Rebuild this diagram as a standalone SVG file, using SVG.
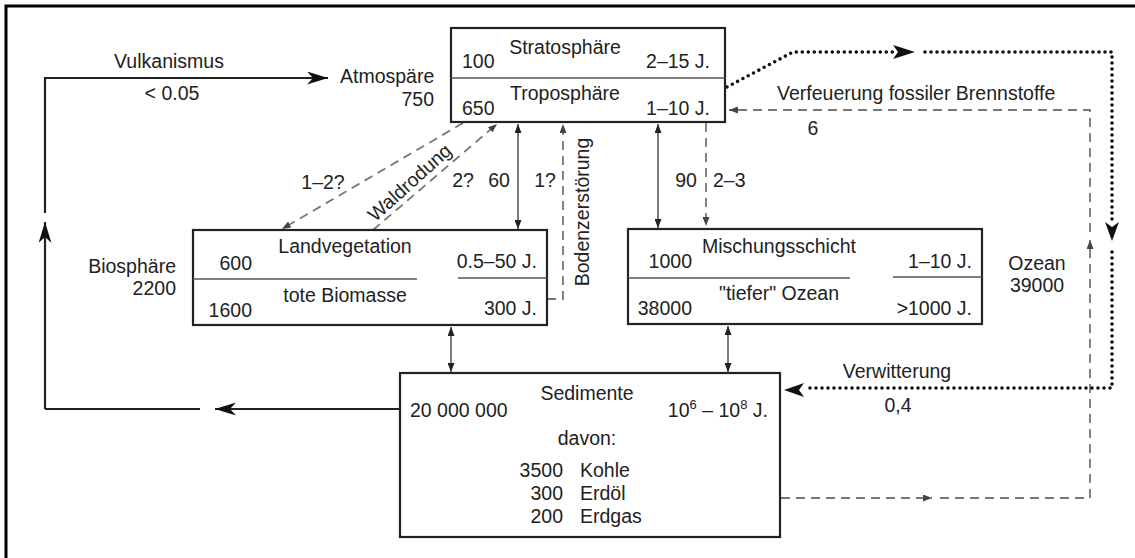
<svg xmlns="http://www.w3.org/2000/svg" width="1135" height="558" viewBox="0 0 1135 558">
<style>
text{font-family:"Liberation Sans",Arial,sans-serif;font-size:19.5px;fill:#222}
.m{text-anchor:middle}.e{text-anchor:end}
.box{fill:#fff;stroke:#222;stroke-width:2.2}
.div{stroke:#555;stroke-width:1.5}
.thin{fill:none;stroke:#222;stroke-width:1.2}
.thick{fill:none;stroke:#222;stroke-width:2.2}
.dash{fill:none;stroke:#777;stroke-width:1.8;stroke-dasharray:9 6}
.dot{fill:none;stroke:#111;stroke-width:3.6;stroke-linecap:round;stroke-dasharray:0 6}
</style>
<defs>
<marker id="sm" markerUnits="userSpaceOnUse" markerWidth="9" markerHeight="7" refX="9" refY="3.5" orient="auto-start-reverse"><path d="M0,0 L9,3.5 L0,7 z" fill="#222"/></marker>
<marker id="smg" markerUnits="userSpaceOnUse" markerWidth="9" markerHeight="7" refX="9" refY="3.5" orient="auto"><path d="M0,0 L9,3.5 L0,7 z" fill="#444"/></marker>
<marker id="big" markerUnits="userSpaceOnUse" markerWidth="21" markerHeight="13" refX="21" refY="6.5" orient="auto"><path d="M0,0 L21,6.5 L0,13 L6,6.5 z" fill="#111"/></marker>
</defs>
<g id="frame"><path d="M6,558 V6 H1135" fill="none" stroke="#000" stroke-width="3"/></g>

<g id="connectors">
<path class="thick" d="M45,213 V78 H328" marker-end="url(#big)"/>
<path class="thick" d="M45,409 V222" marker-end="url(#big)"/>
<path class="thick" d="M200,409 H45"/>
<path class="thick" d="M400,409 H215" marker-end="url(#big)"/>
<path class="thin" d="M518,124 V229" marker-start="url(#sm)" marker-end="url(#sm)"/>
<path class="thin" d="M658,124 V228" marker-start="url(#sm)" marker-end="url(#sm)"/>
<path class="thin" d="M451,327 V372" marker-start="url(#sm)" marker-end="url(#sm)"/>
<path class="thin" d="M728,326 V372" marker-start="url(#sm)" marker-end="url(#sm)"/>
<path class="thin" d="M450,265 V288" marker-start="url(#sm)" marker-end="url(#sm)"/>
<path class="thin" d="M883,265 V288" marker-start="url(#sm)" marker-end="url(#sm)"/>
<path class="dash" d="M463,123 L282,229" marker-end="url(#smg)"/>
<path class="dash" d="M373,230 L497,124" marker-end="url(#smg)"/>
<path class="dash" d="M547,299 H563 V124" marker-end="url(#smg)"/>
<path class="dash" d="M706,123 V226" marker-end="url(#smg)"/>
<path class="dash" d="M781,498 H932" marker-end="url(#smg)"/>
<path class="dash" d="M940,498 H1090 V240" marker-end="url(#smg)"/>
<path class="dash" d="M1090,232 V110 H729" marker-end="url(#smg)"/>
<path class="dot" d="M727,87 L793,52 H895"/>
<path d="M893,45 L915,52 L893,59 L898,52 z" fill="#111"/>
<path class="dot" d="M925,52 H1112 V222"/>
<path d="M1105,222 L1112,241 L1119,222 L1112,227 z" fill="#111"/>
<path class="dot" d="M1112,252 V388 H804"/>
<path d="M804,383 L784,390 L804,397 L799,390 z" fill="#111"/>
</g>

<g id="atmosphere">
<rect class="box" x="451" y="28" width="274" height="94"/>
<line class="div" x1="451" y1="78" x2="725" y2="78"/>
<text class="m" x="565" y="54">Stratosphäre</text>
<text x="462" y="68">100</text>
<text class="e" x="710" y="68">2–15 J.</text>
<text class="m" x="565" y="100">Troposphäre</text>
<text x="462" y="115">650</text>
<text class="e" x="710" y="115">1–10 J.</text>
</g>

<g id="atm-label">
<text x="340" y="83">Atmospäre</text>
<text class="e" x="434" y="106">750</text>
</g>

<g id="landvegetation">
<rect class="box" x="193" y="230" width="354" height="95"/>
<line class="div" x1="193" y1="279" x2="417" y2="279"/>
<line class="div" x1="458" y1="278" x2="547" y2="278"/>
<text class="m" x="345" y="253">Landvegetation</text>
<text class="e" x="252" y="270">600</text>
<text class="m" x="345" y="302">tote Biomasse</text>
<text class="e" x="252" y="317">1600</text>
<text class="e" x="537" y="268">0.5–50 J.</text>
<text class="e" x="537" y="315">300 J.</text>
</g>

<g id="bio-label">
<text class="e" x="176" y="273">Biosphäre</text>
<text class="e" x="176" y="295">2200</text>
</g>

<g id="ocean">
<rect class="box" x="628" y="229" width="354" height="95"/>
<line class="div" x1="628" y1="278" x2="850" y2="278"/>
<line class="div" x1="893" y1="277" x2="982" y2="277"/>
<text class="m" x="779" y="253">Mischungsschicht</text>
<text class="e" x="692" y="268">1000</text>
<text class="m" x="779" y="300">"tiefer" Ozean</text>
<text class="e" x="692" y="315">38000</text>
<text class="e" x="972" y="268">1–10 J.</text>
<text class="e" x="972" y="315">&gt;1000 J.</text>
</g>

<g id="ocean-label">
<text class="m" x="1037" y="270">Ozean</text>
<text class="m" x="1037" y="292">39000</text>
</g>

<g id="sediments">
<rect class="box" x="400" y="373" width="380" height="164"/>
<text class="m" x="587" y="400">Sedimente</text>
<text x="410" y="417">20 000 000</text>
<text class="e" x="768" y="417">10<tspan font-size="13" dy="-8">6</tspan><tspan dy="8"> – 10</tspan><tspan font-size="13" dy="-8">8</tspan><tspan dy="8"> J.</tspan></text>
<text class="m" x="587" y="445">davon:</text>
<text class="e" x="563" y="477">3500</text>
<text x="580" y="477">Kohle</text>
<text class="e" x="563" y="500">300</text>
<text x="580" y="500">Erdöl</text>
<text class="e" x="563" y="523">200</text>
<text x="580" y="523">Erdgas</text>
</g>

<g id="labels">
<text class="m" x="169" y="68">Vulkanismus</text>
<text class="m" x="172" y="100">&lt; 0.05</text>
<text class="m" x="323" y="189">1–2?</text>
<text class="m" x="463" y="187">2?</text>
<text class="m" x="499" y="187">60</text>
<text class="m" x="545" y="187">1?</text>
<text class="m" x="686" y="187">90</text>
<text x="713" y="187">2–3</text>
<text transform="translate(410,183) rotate(-42)" class="m" x="0" y="6">Waldrodung</text>
<text transform="translate(589,212) rotate(-90)" class="m" x="0" y="0">Bodenzerstörung</text>
<text x="777" y="100">Verfeuerung fossiler Brennstoffe</text>
<text class="m" x="813" y="135">6</text>
<text class="m" x="897" y="378">Verwitterung</text>
<text class="m" x="898" y="412">0,4</text>
</g>
</svg>
